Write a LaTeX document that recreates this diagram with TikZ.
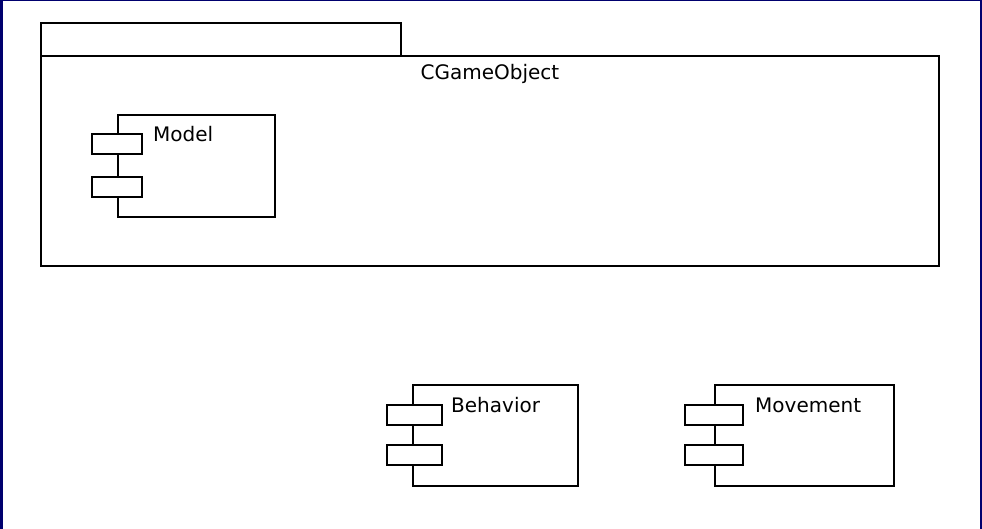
\documentclass[tikz,border=0pt]{standalone}
\usepackage{fontspec}
\setmainfont{DejaVu Sans}
\usetikzlibrary{positioning}

\definecolor{framenavy}{RGB}{0,0,110}
\tikzset{
  pkg/.style={draw, line width=1.8pt, inner sep=0pt, anchor=north west},
  comp/.style={draw, fill=white, line width=1.8pt, inner sep=0pt, anchor=north west},
  port/.style={draw, fill=white, line width=1.8pt, inner sep=0pt, anchor=north west,
    minimum height=20},
  lbl/.style={inner sep=0pt, font=\fontsize{20}{24}\selectfont},
}

\begin{document}
\begin{tikzpicture}[x=1pt, y=-1pt]
        \useasboundingbox (0,0) rectangle (982,529);
        \fill[white] (0,0) rectangle (982,529);
        \fill[framenavy] (0,0) rectangle (3,529);
        \fill[framenavy] (0,0) rectangle (982,1);
        \fill[framenavy] (980,0) rectangle (982,529);

        % package
        \node[pkg, minimum width=360, minimum height=33] at (40, 22)(tab){};
        \node[pkg, minimum width=898, minimum height=210] at (40, 55)(gameobj){};
        \node[lbl] at (490, 74)(gameobjlbl){CGameObject};

        % components
        \node[comp, minimum width=157, minimum height=102] at (117, 114)(model){};
        \node[comp, minimum width=165, minimum height=101] at (412, 384)(behavior){};
        \node[comp, minimum width=179, minimum height=101] at (714, 384)(movement){};

        \node[lbl, anchor=base west] at ([xshift=36, yshift=-28]model.north west)(modellbl){Model};
        \node[lbl, anchor=base west] at ([xshift=39, yshift=-28]behavior.north west)(behaviorlbl){Behavior};
        \node[lbl, anchor=base west] at ([xshift=41, yshift=-28]movement.north west)(movementlbl){Movement};

        \node[port, minimum width=50] at ([xshift=-26, yshift=-19]model.north west)(model1){};
        \node[port, minimum width=50] at ([xshift=-26, yshift=-62]model.north west)(model2){};
        \node[port, minimum width=55] at ([xshift=-26, yshift=-20]behavior.north west)(behavior1){};
        \node[port, minimum width=55] at ([xshift=-26, yshift=-60]behavior.north west)(behavior2){};
        \node[port, minimum width=58] at ([xshift=-30, yshift=-20]movement.north west)(movement1){};
        \node[port, minimum width=58] at ([xshift=-30, yshift=-60]movement.north west)(movement2){};
    \end{tikzpicture}
\end{document}
